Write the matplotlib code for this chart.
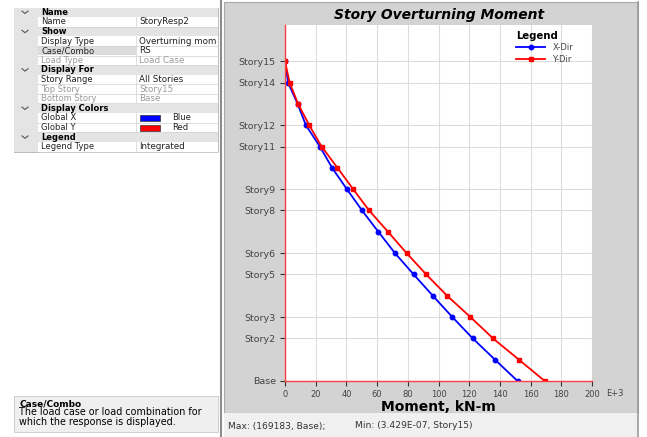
"""
Story overturning moment chart (ETABS style screenshot) with property panel.
"""

import matplotlib
matplotlib.use("Agg")

import matplotlib.pyplot as plt
from matplotlib.patches import Rectangle
from matplotlib.transforms import Bbox, TransformedBbox

# ---- data ----
STORIES = ["Base", "Story1", "Story2", "Story3", "Story4", "Story5", "Story6", "Story7",
           "Story8", "Story9", "Story10", "Story11", "Story12", "Story13", "Story14", "Story15"]
SHOWN_STORIES = ["Base", "Story2", "Story3", "Story5", "Story6", "Story8", "Story9",
                 "Story11", "Story12", "Story14", "Story15"]
X_DIR = [151.5, 136.8, 122.3, 109.0, 96.3, 83.8, 71.6, 60.8, 50.2, 40.3, 30.7, 22.7, 13.6, 8.2, 2.0, 0.0]
Y_DIR = [169.2, 152.4, 135.5, 120.8, 105.6, 92.0, 79.2, 67.1, 54.8, 44.4, 34.2, 23.8, 15.8, 8.5, 3.0, 0.0]
X_TICKS = [0, 20, 40, 60, 80, 100, 120, 140, 160, 180, 200]

# property grid: (label, value, kind)  kind: h=header, n=normal, d=disabled, s=selected, c=colour
PROP_ROWS = [
    ("Name", "", "h"),
    ("Name", "StoryResp2", "n"),
    ("Show", "", "h"),
    ("Display Type", "Overturning moment", "n"),
    ("Case/Combo", "RS", "s"),
    ("Load Type", "Load Case", "d"),
    ("Display For", "", "h"),
    ("Story Range", "All Stories", "n"),
    ("Top Story", "Story15", "d"),
    ("Bottom Story", "Base", "d"),
    ("Display Colors", "", "h"),
    ("Global X", "Blue", "c"),
    ("Global Y", "Red", "c"),
    ("Legend", "", "h"),
    ("Legend Type", "Integrated", "n"),
]
SWATCHES = {"Global X": "#0000ff", "Global Y": "#ff0000"}
STATUS_MAX = "Max: (169183, Base);"
STATUS_MIN = "Min: (3.429E-07, Story15)"
HELP_TITLE = "Case/Combo"
HELP_TEXT = "The load case or load combination for\nwhich the response is displayed."

W, H = 647, 437
FONT = "DejaVu Sans"


def draw_background(fig):
    bg = fig.add_axes([0, 0, 1, 1], zorder=0)
    bg.set_xlim(0, W)
    bg.set_ylim(H, 0)
    bg.axis("off")

    # chart panel and status bar
    bg.add_patch(Rectangle((224, 2), 414, 411, fc="#d3d3d3", ec="#a8a8a8", lw=0.8))
    bg.add_patch(Rectangle((224, 413), 414, 24, fc="#f0f0f0", ec="none"))
    bg.plot([638, 638], [2, 437], color="#9a9a9a", lw=1.2)
    bg.plot([221, 221], [0, 437], color="#8c8c8c", lw=1.5)
    bg.text(228, 426, STATUS_MAX, fontsize=6.6, color="#333333", va="center", family=FONT)
    bg.text(355, 426, STATUS_MIN, fontsize=6.6, color="#333333", va="center", family=FONT)

    # property grid
    top, rh = 7.5, 9.6
    n = len(PROP_ROWS)
    bg.add_patch(Rectangle((14, top), 204, rh * n, fc="white", ec="#b0b0b0", lw=0.6))
    bg.add_patch(Rectangle((14, top), 24, rh * n, fc="#e4e4e4", ec="none"))
    value_clip = TransformedBbox(Bbox([[136, top], [217, top + rh * n]]), bg.transData)
    for i, (label, value, kind) in enumerate(PROP_ROWS):
        y0 = top + i * rh
        yc = y0 + rh / 2
        if kind == "h":
            bg.add_patch(Rectangle((14, y0), 204, rh, fc="#e4e4e4", ec="none"))
            bg.plot([22, 25, 28], [yc - 1.2, yc + 1.2, yc - 1.2], color="#555555", lw=0.8)
            bg.text(41, yc, label, fontsize=6, weight="bold", va="center", family=FONT)
            continue
        if kind == "s":
            bg.add_patch(Rectangle((38, y0), 98, rh, fc="#dcdcdc", ec="none"))
        bg.plot([38, 218], [y0 + rh, y0 + rh], color="#d0d0d0", lw=0.5)
        bg.plot([136, 136], [y0, y0 + rh], color="#d0d0d0", lw=0.5)
        tc = "#9a9a9a" if kind == "d" else "#222222"
        bg.text(41, yc, label, fontsize=6, color=tc, va="center", family=FONT)
        if kind == "c":
            bg.add_patch(Rectangle((140, y0 + 1.8), 20, rh - 3.6, fc=SWATCHES[label], ec="#333333", lw=0.5))
            bg.text(172, yc, value, fontsize=6, color=tc, va="center", family=FONT)
        else:
            t = bg.text(139, yc, value, fontsize=6.3, color=tc, va="center", family=FONT)
            t.set_clip_box(value_clip)
            t.set_clip_on(True)

    # help box
    bg.add_patch(Rectangle((14, 396), 204, 36, fc="#efefef", ec="#c8c8c8", lw=0.6))
    bg.text(19, 404, HELP_TITLE, fontsize=6.5, weight="bold", va="center", family=FONT)
    bg.text(19, 417, HELP_TEXT, fontsize=6.9, va="center", linespacing=0.95, family=FONT)
    return bg


def draw_chart(fig):
    left, right, top, bottom = 285, 592, 25, 381
    ax = fig.add_axes([left / W, 1 - bottom / H, (right - left) / W, (bottom - top) / H], zorder=2)
    ax.set_facecolor("white")
    levels = list(range(len(STORIES)))
    ax.plot(X_DIR, levels, color="#0000ff", lw=1.3, marker="o", ms=3.2, label="X-Dir")
    ax.plot(Y_DIR, levels, color="#ff0000", lw=1.3, marker="s", ms=3.0, label="Y-Dir")

    ax.set_xlim(0, 200)
    ax.set_ylim(0, 16.7)
    ax.set_xticks(X_TICKS)
    ax.set_xticklabels([str(t) for t in X_TICKS], fontsize=6, color="#444444", family=FONT)
    ax.set_yticks([STORIES.index(s) for s in SHOWN_STORIES])
    ax.set_yticklabels(SHOWN_STORIES, fontsize=6.8, color="#444444", family=FONT)
    ax.tick_params(length=3.5, width=0.8, color="#333333", pad=3)
    ax.grid(True, color="#dcdcdc", lw=0.8)
    ax.set_axisbelow(True)
    for side in ("top", "right"):
        ax.spines[side].set_visible(False)
    for side in ("left", "bottom"):
        ax.spines[side].set_color("#ff4040")
        ax.spines[side].set_linewidth(1.0)

    ax.text(1.045, -0.022, "E+3", transform=ax.transAxes, fontsize=6, color="#444444",
            va="top", family=FONT)
    ax.set_xlabel("Moment, kN-m", fontsize=10, weight="bold", labelpad=0.5, family=FONT)
    fig.text(439 / W, 1 - 15 / H, "Story Overturning Moment", fontsize=10, weight="bold",
             style="italic", ha="center", va="center", family=FONT)

    leg = ax.legend(title="Legend", loc="upper left", bbox_to_anchor=(0.735, 1.0), frameon=False,
                    fontsize=6, alignment="left", handlelength=3.4, handletextpad=0.9,
                    labelspacing=0.3, borderaxespad=0.3)
    leg.get_title().set_fontweight("bold")
    leg.get_title().set_fontsize(7.3)
    leg.get_title().set_family(FONT)
    for t in leg.get_texts():
        t.set_color("#444444")
    return ax


def main():
    fig = plt.figure(figsize=(W / 100, H / 100), dpi=100)
    fig.patch.set_facecolor("white")
    draw_background(fig)
    draw_chart(fig)
    fig.savefig("out.png", dpi=100)
    plt.close(fig)


if __name__ == "__main__":
    main()
